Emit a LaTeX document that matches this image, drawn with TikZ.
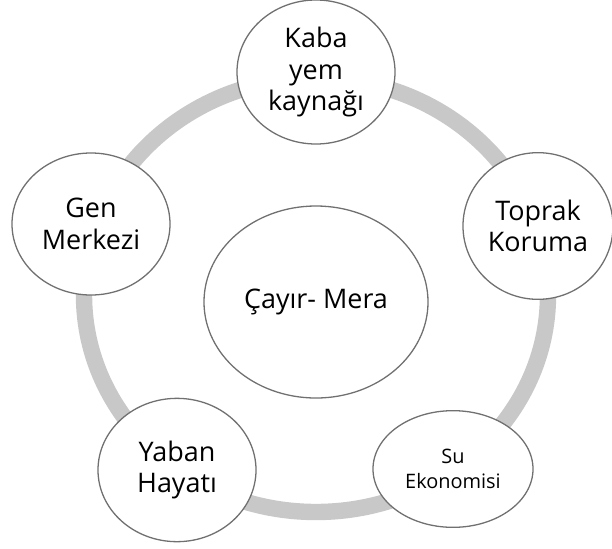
\documentclass[tikz,border=0pt]{standalone}
\usepackage{fontspec}
\setmainfont{Open Sans}
\usetikzlibrary{shapes.geometric}
\definecolor{ringgray}{HTML}{C8C8C8}
\definecolor{edgegray}{HTML}{707070}

\begin{document}
\begin{tikzpicture}[x=0.03cm, y=-0.03cm,
      topic/.style={ellipse, draw=edgegray, line width=1.1pt, fill=white, inner sep=0pt, align=center, font=\fontsize{23}{27}\selectfont},
      ring/.style={draw=ringgray, line width=14pt}
    ]
      \useasboundingbox (0,0) rectangle (612,548);
      % gray loop behind the topics
      \draw[ring] (316,295) ellipse [x radius=232, y radius=217];
      \node[topic, minimum width=6.72cm, minimum height=5.76cm] (hub) at (316,302) {Çayır- Mera};
      \node[topic, minimum width=4.74cm, minimum height=4.32cm] (kaba) at (316,72) {Kaba\\yem\\kaynağı};
      \node[topic, minimum width=4.5cm, minimum height=4.4cm] (toprak) at (538,226) {Toprak\\Koruma};
      \node[topic, minimum width=4.8cm, minimum height=3.5cm, font=\fontsize{17}{21}\selectfont] (su) at (453,469) {Su\\Ekonomisi};
      \node[topic, minimum width=4.74cm, minimum height=4.3cm] (yaban) at (177,470) {Yaban\\Hayatı};
      \node[topic, minimum width=4.74cm, minimum height=4.26cm] (gen) at (91,224) {Gen\\Merkezi};
    \end{tikzpicture}
\end{document}
